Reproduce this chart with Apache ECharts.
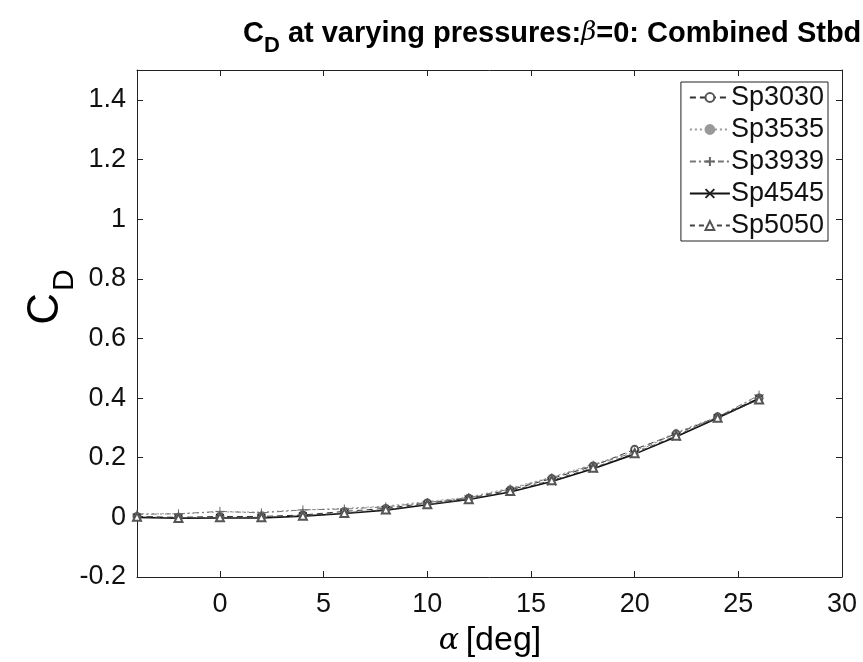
<!DOCTYPE html>
<html>
<head>
<meta charset="utf-8">
<script src="https://cdn.jsdelivr.net/npm/echarts@6/dist/echarts.min.js"></script>
<style>html,body{margin:0;padding:0;background:#fff;}#c{width:863px;height:662px;}</style>
</head>
<body>
<div id="c"></div>
<script>
const alpha = [-4, -2, 0, 2, 4, 6, 8, 10, 12, 14, 16, 18, 20, 22, 24, 26];
const sp3030 = [0.003, 0.000, 0.003, 0.003, 0.008, 0.020, 0.030, 0.048, 0.064, 0.092, 0.130, 0.172, 0.228, 0.280, 0.337, 0.400];
const sp3535 = [0.012, 0.012, 0.018, 0.018, 0.025, 0.030, 0.038, 0.053, 0.068, 0.098, 0.135, 0.178, 0.222, 0.285, 0.338, 0.405];
const sp3939 = [0.010, 0.012, 0.020, 0.015, 0.025, 0.028, 0.035, 0.050, 0.066, 0.095, 0.133, 0.175, 0.218, 0.282, 0.336, 0.410];
const sp4545 = [0.000, -0.003, -0.002, -0.002, 0.004, 0.013, 0.024, 0.042, 0.060, 0.085, 0.120, 0.163, 0.212, 0.270, 0.333, 0.398];
const sp5050 = [0.002, -0.002, 0.000, 0.000, 0.005, 0.015, 0.026, 0.044, 0.061, 0.088, 0.124, 0.166, 0.215, 0.274, 0.334, 0.395];
const seriesNames = ['Sp3030', 'Sp3535', 'Sp3939', 'Sp4545', 'Sp5050'];
const xTicks = [0, 5, 10, 15, 20, 25, 30];
const yTicks = [-0.2, 0, 0.2, 0.4, 0.6, 0.8, 1.0, 1.2, 1.4];

const chart = echarts.init(document.getElementById('c'), null, {renderer: 'canvas'});
const FONT = 'Liberation Sans';
const pair = ys => alpha.map((a, i) => [a, ys[i]]);
const PLUS = 'path://M5,0L5,10M0,5L10,5';
const CROSS = 'path://M0,0L10,10M10,0L0,10';

function mk(name, ys, symbol, size, lineColor, lineType, width, symColor) {
  return {
    name, type: 'line', data: pair(ys), symbol, symbolSize: size,
    lineStyle: {color: lineColor, type: lineType, width},
    itemStyle: {color: symColor, borderColor: symColor, borderWidth: 1},
    emphasis: {disabled: true}, animation: false, z: 3
  };
}

const axisCommon = {
  type: 'value', splitLine: {show: false},
  axisLine: {show: true, onZero: false, lineStyle: {color: '#222', width: 1}},
};

const option = {
  backgroundColor: '#fff',
  animation: false,
  grid: {left: 137, right: 21, top: 70, bottom: 85},
  xAxis: [
    Object.assign({}, axisCommon, {
      min: -4, max: 30, position: 'bottom',
      axisTick: {show: true, inside: true, length: 6, customValues: xTicks, lineStyle: {color: '#222'}},
      axisLabel: {show: true, customValues: xTicks, fontFamily: FONT, fontSize: 27, color: '#111', margin: 14}
    }),
    Object.assign({}, axisCommon, {
      min: -4, max: 30, position: 'top',
      axisTick: {show: true, inside: true, length: 6, customValues: xTicks, lineStyle: {color: '#222'}},
      axisLabel: {show: false}
    })
  ],
  yAxis: [
    Object.assign({}, axisCommon, {
      min: -0.2, max: 1.5, position: 'left',
      axisTick: {show: true, inside: true, length: 6, customValues: yTicks, lineStyle: {color: '#222'}},
      axisLabel: {show: true, customValues: yTicks, fontFamily: FONT, fontSize: 27, color: '#111', margin: 11,
        formatter: v => String(Math.round(v * 10) / 10)}
    }),
    Object.assign({}, axisCommon, {
      min: -0.2, max: 1.5, position: 'right',
      axisTick: {show: true, inside: true, length: 6, customValues: yTicks, lineStyle: {color: '#222'}},
      axisLabel: {show: false}
    })
  ],
  legend: {
    show: true, orient: 'vertical', right: 35, top: 82,
    backgroundColor: '#fff', borderColor: '#222', borderWidth: 1, borderRadius: 0,
    padding: [2, 4, 2, 8], itemGap: 5, itemWidth: 40, itemHeight: 11,
    textStyle: {fontFamily: FONT, fontSize: 27, lineHeight: 27, color: '#111', padding: [0, 0, 0, -4]},
    data: seriesNames
  },
  series: [
    mk('Sp3030', sp3030, 'emptyCircle', 7, '#333', [6, 4], 1, '#555'),
    mk('Sp3535', sp3535, 'circle', 2, '#999', [2, 3], 1, '#999'),
    mk('Sp3939', sp3939, PLUS, 9, '#777', [6, 3, 2, 3], 1, '#666'),
    mk('Sp4545', sp4545, CROSS, 8, '#111', 'solid', 1.6, '#222'),
    mk('Sp5050', sp5050, 'emptyTriangle', 8, '#444', [5, 4], 1, '#555')
  ],
  graphic: [
    {
      type: 'text', left: 243, top: 19, silent: true,
      style: {
        text: '{a|C}{s|D}{a| at varying pressures:}{g|β}{a|=0: Combined Stbd}',
        rich: {
          a: {fontFamily: FONT, fontWeight: 'bold', fontSize: 29, fill: '#000'},
          s: {fontFamily: FONT, fontWeight: 'bold', fontSize: 22, fill: '#000', padding: [24, 0, 0, 0]},
          g: {fontFamily: 'DejaVu Serif', fontStyle: 'italic', fontSize: 26, fill: '#000'}
        }
      }
    },
    {
      type: 'text', x: 46, y: 297, rotation: Math.PI / 2, silent: true,
      style: {
        text: '{c|C}{s|D}', align: 'center', verticalAlign: 'middle',
        rich: {
          c: {fontFamily: FONT, fontSize: 44, fill: '#000'},
          s: {fontFamily: FONT, fontSize: 30, fill: '#000', padding: [38, 0, 0, 2]}
        }
      }
    },
    {
      type: 'text', x: 490, y: 641, silent: true,
      style: {
        text: '{g|α}  {a|[deg]}', align: 'center', verticalAlign: 'middle',
        rich: {
          g: {fontFamily: 'DejaVu Serif', fontStyle: 'italic', fontSize: 30, fill: '#000'},
          a: {fontFamily: FONT, fontSize: 34, fill: '#000'}
        }
      }
    }
  ]
};
chart.setOption(option);
</script>
</body>
</html>
